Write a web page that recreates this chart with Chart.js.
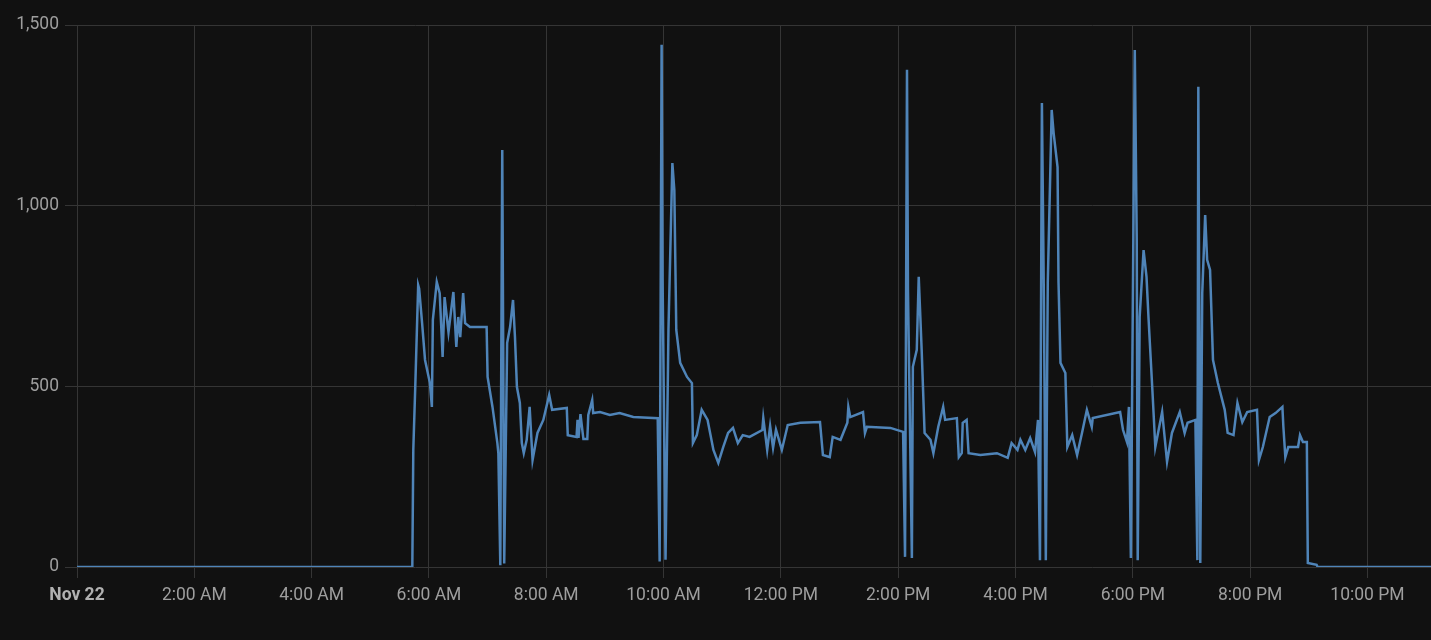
<!DOCTYPE html>
<html>
<head>
<meta charset="utf-8">
<script src="https://cdn.jsdelivr.net/npm/chart.js@4/dist/chart.umd.min.js"></script>
<style>
  html, body { margin: 0; padding: 0; background: #111111; overflow: hidden; }
  #wrap { position: relative; width: 1431px; height: 640px; }
  canvas { display: block; }
</style>
</head>
<body>
<div id="wrap"><canvas id="chart" width="1431" height="640"></canvas></div>
<script>
// time of each reading (Nov 22, local time) and the power value
const times = [
  '0:00', '5:43', '5:44', '5:46', '5:49', '5:50', '5:53', '5:56', '6:01', '6:03',
  '6:04', '6:08', '6:11', '6:14', '6:16', '6:20', '6:25', '6:28', '6:30', '6:32',
  '6:35', '6:37', '6:42', '6:59', '7:00', '7:05', '7:10', '7:11', '7:13', '7:15',
  '7:17', '7:20', '7:23', '7:26', '7:28', '7:30', '7:33', '7:35', '7:37', '7:40',
  '7:43', '7:46', '7:51', '7:57', '8:03', '8:06', '8:21', '8:22', '8:31', '8:32',
  '8:33', '8:35', '8:38', '8:42', '8:43', '8:47', '8:48', '8:55', '9:05', '9:15',
  '9:29', '9:54', '9:56', '9:58', '9:59', '10:02', '10:05', '10:09', '10:11', '10:13',
  '10:17', '10:24', '10:29', '10:30', '10:34', '10:39', '10:45', '10:51', '10:56', '11:01',
  '11:06', '11:11', '11:16', '11:21', '11:28', '11:41', '11:42', '11:46', '11:49', '11:52',
  '11:55', '12:01', '12:07', '12:20', '12:40', '12:43', '12:50', '12:53', '13:01', '13:08',
  '13:09', '13:11', '13:24', '13:26', '13:28', '13:52', '14:05', '14:07', '14:09', '14:10',
  '14:14', '14:15', '14:19', '14:21', '14:24', '14:27', '14:33', '14:36', '14:41', '14:46',
  '14:48', '15:00', '15:02', '15:05', '15:06', '15:10', '15:12', '15:24', '15:41', '15:52',
  '15:56', '16:02', '16:05', '16:10', '16:15', '16:20', '16:23', '16:25', '16:27', '16:29',
  '16:31', '16:33', '16:37', '16:39', '16:43', '16:44', '16:46', '16:51', '16:53', '16:58',
  '17:03', '17:08', '17:13', '17:18', '17:19', '17:47', '17:50', '17:54', '17:56', '17:58',
  '18:02', '18:04', '18:05', '18:07', '18:11', '18:14', '18:16', '18:20', '18:23', '18:30',
  '18:35', '18:40', '18:48', '18:53', '18:56', '19:04', '19:06', '19:07', '19:09', '19:11',
  '19:14', '19:16', '19:19', '19:22', '19:27', '19:34', '19:37', '19:43', '19:47', '19:52',
  '19:57', '20:07', '20:09', '20:13', '20:20', '20:26', '20:33', '20:34', '20:36', '20:39',
  '20:49', '20:51', '20:54', '20:58', '20:59', '21:08', '21:09', '23:05'
];
const power = [
  0, 0, 324, 498, 780, 770, 675, 573, 509, 443,
  684, 789, 758, 581, 747, 650, 761, 609, 692, 636,
  758, 675, 664, 664, 526, 443, 343, 315, 5, 1154,
  10, 620, 664, 739, 636, 498, 454, 343, 315, 352,
  443, 296, 371, 407, 476, 435, 440, 365, 360, 407,
  357, 423, 354, 354, 421, 462, 426, 429, 421, 426,
  415, 412, 15, 1445, 794, 20, 656, 1118, 1043, 656,
  565, 526, 509, 343, 365, 435, 407, 324, 288, 332,
  371, 385, 343, 365, 360, 379, 412, 324, 390, 330,
  380, 324, 393, 399, 401, 310, 304, 360, 352, 399,
  443, 415, 429, 371, 388, 385, 374, 28, 1376, 767,
  25, 554, 601, 803, 601, 371, 352, 315, 388, 443,
  407, 412, 304, 315, 399, 407, 315, 310, 315, 302,
  343, 324, 352, 324, 357, 318, 407, 19, 1284, 747,
  19, 786, 1265, 1201, 1107, 786, 565, 537, 332, 365,
  310, 371, 435, 388, 412, 429, 379, 346, 443, 25,
  1431, 905, 19, 692, 877, 803, 692, 490, 332, 429,
  291, 371, 429, 371, 399, 407, 19, 1329, 11, 758,
  974, 850, 822, 573, 509, 435, 371, 365, 454, 401,
  429, 435, 296, 332, 415, 426, 443, 388, 304, 332,
  332, 365, 346, 346, 11, 6, 0, 0
];

// x axis ticks (minutes after midnight) and y axis ticks
const xTicks = [0, 120, 240, 360, 480, 600, 720, 840, 960, 1080, 1200, 1320];
const yTicks = [0, 500, 1000, 1500];
const dayLabel = 'Nov 22';

const toMinutes = (t) => {
  const [h, m] = t.split(':').map(Number);
  return h * 60 + m;
};

const formatTime = (mins) => {
  if (mins === 0) return dayLabel;
  const h = Math.floor(mins / 60);
  const m = mins % 60;
  const suffix = h >= 12 ? 'PM' : 'AM';
  const h12 = h % 12 === 0 ? 12 : h % 12;
  return `${h12}:${String(m).padStart(2, '0')} ${suffix}`;
};

const points = times.map((t, i) => ({ x: toMinutes(t), y: power[i] }));

const textColor = '#9e9e9e';
const gridColor = '#353535';

Chart.defaults.font.family = 'Roboto, "Noto Sans", sans-serif';
Chart.defaults.font.size = 17.5;
Chart.defaults.color = textColor;

new Chart(document.getElementById('chart').getContext('2d'), {
  type: 'line',
  data: {
    datasets: [{
      label: 'Power',
      data: points,
      borderColor: '#4f84b8',
      backgroundColor: 'transparent',
      borderWidth: 2.5,
      pointRadius: 0,
      tension: 0,
    }],
  },
  options: {
    responsive: false,
    animation: false,
    layout: { padding: { top: 25, right: 0, left: 0, bottom: 0 } },
    plugins: {
      legend: { display: false },
      tooltip: { enabled: false },
    },
    scales: {
      x: {
        type: 'linear',
        min: 0,
        max: toMinutes(times[times.length - 1]),
        afterBuildTicks: (scale) => {
          scale.ticks = xTicks.map(v => ({ value: v }));
        },
        afterFit: (scale) => { scale.height = 73; },
        grid: { color: gridColor, tickLength: 11, drawTicks: true },
        border: { display: false },
        ticks: {
          padding: 7,
          maxRotation: 0,
          autoSkip: false,
          color: (ctx) => (ctx.index === 0 ? '#b0b0b0' : textColor),
          font: (ctx) => (ctx.index === 0 ? { weight: 'bold' } : { weight: 'normal' }),
          callback: (value) => formatTime(value),
        },
      },
      y: {
        type: 'linear',
        min: 0,
        max: 1500,
        afterBuildTicks: (scale) => {
          scale.ticks = yTicks.map(v => ({ value: v }));
        },
        afterFit: (scale) => { scale.width = 77; },
        grid: { color: gridColor, tickLength: 12 },
        border: { display: false },
        ticks: {
          padding: 6,
          callback: (value) => value.toLocaleString('en-US'),
        },
      },
    },
  },
});
</script>
</body>
</html>
